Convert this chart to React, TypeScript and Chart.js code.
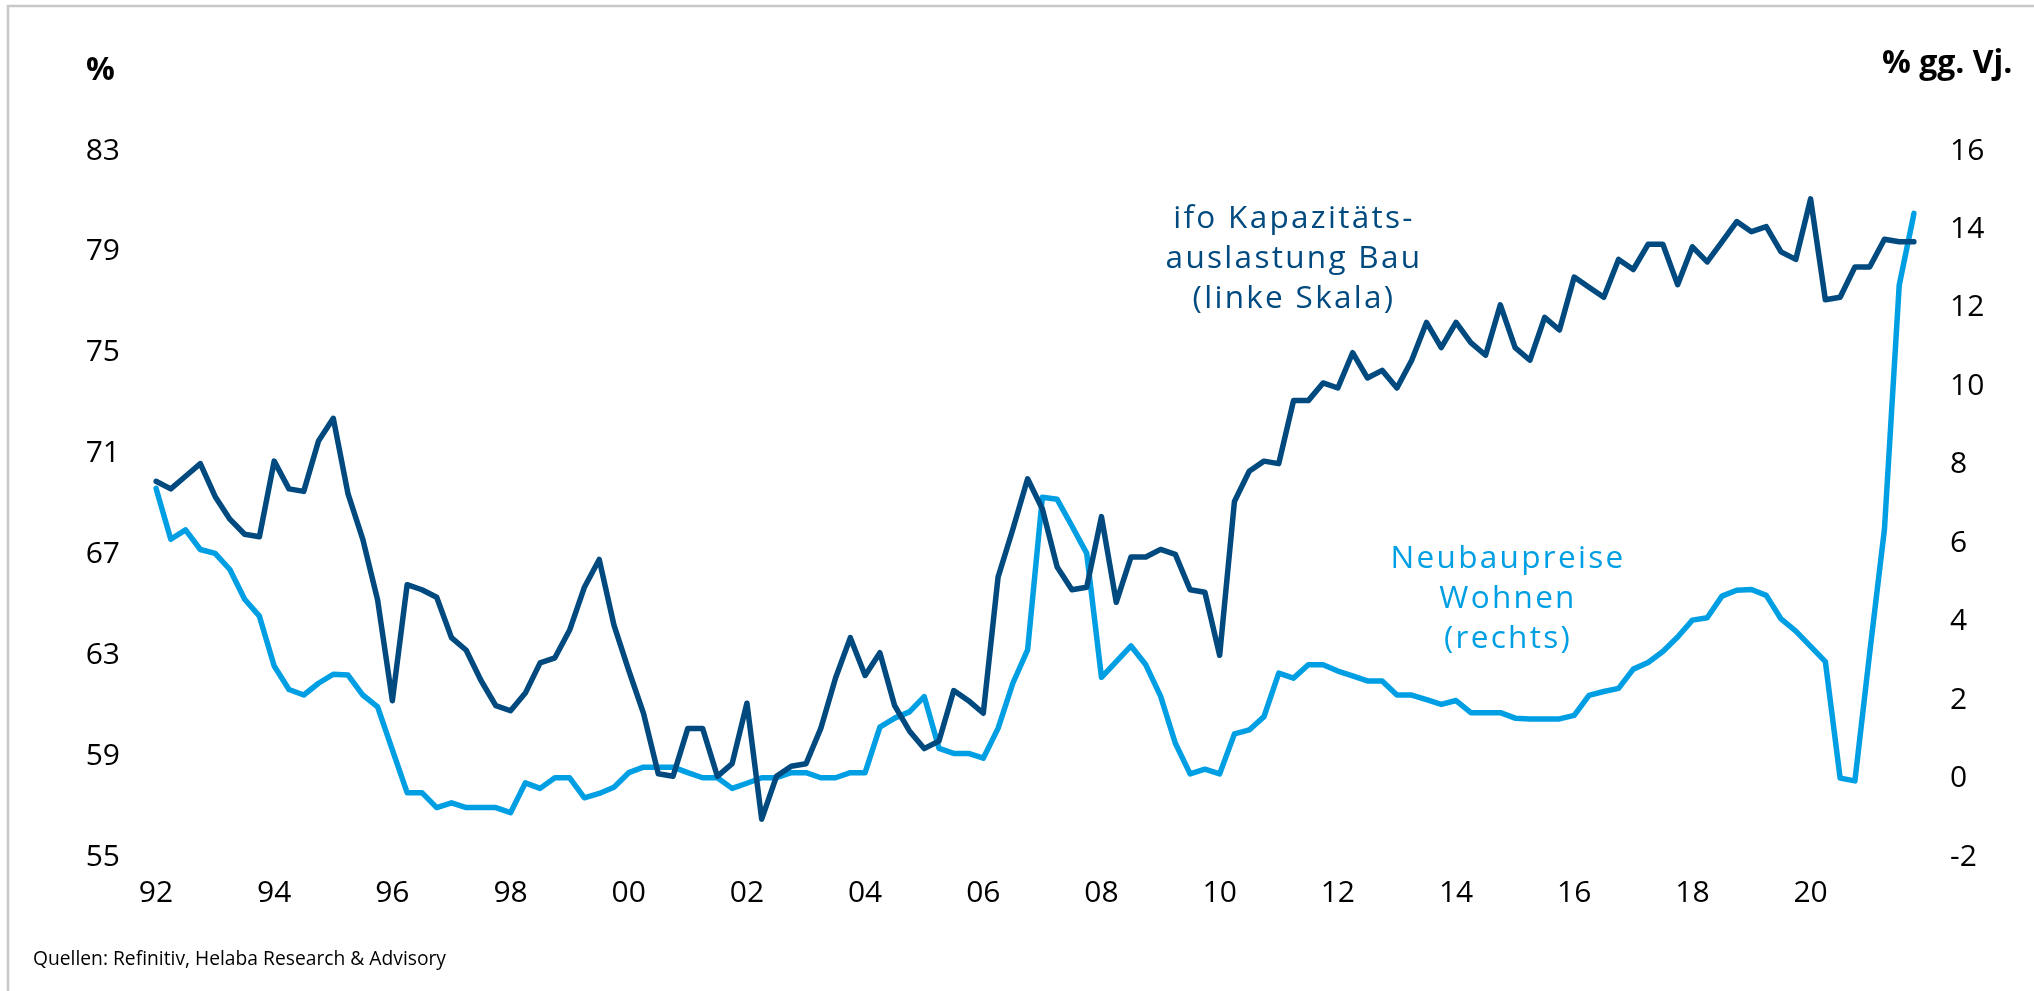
import React, { useEffect, useRef } from "react";
import { Chart, registerables } from "chart.js";

Chart.register(...registerables);

// ---- categories (quarters 1992 Q1 .. 2021 Q4) ----
const years = [
  1992, 1993, 1994, 1995, 1996, 1997, 1998, 1999, 2000, 2001,
  2002, 2003, 2004, 2005, 2006, 2007, 2008, 2009, 2010, 2011,
  2012, 2013, 2014, 2015, 2016, 2017, 2018, 2019, 2020, 2021,
];
const quarterNames = ["Q1", "Q2", "Q3", "Q4"];
const categories = years.flatMap((y) => quarterNames.map((q) => `${y} ${q}`));

// x tick labels, one every two years (every 8 quarters)
const xTickLabels = ["92", "94", "96", "98", "00", "02", "04", "06", "08", "10", "12", "14", "16", "18", "20"];

// ifo Kapazitätsauslastung Bau, % (left axis)
const ifoCapacity = [
  69.9, 69.6, 70.1, 70.6, 69.3, 68.4, 67.8, 67.7, 70.7, 69.6, 69.5, 71.5,
  72.4, 69.4, 67.6, 65.2, 61.2, 65.8, 65.6, 65.3, 63.7, 63.2, 62.0, 61.0,
  60.8, 61.5, 62.7, 62.9, 64.0, 65.7, 66.8, 64.2, 62.4,
  60.7, 58.3, 58.2, 60.1, 60.1, 58.2, 58.7, 61.1, 56.5, 58.2, 58.6, 58.7,
  60.1, 62.1, 63.7, 62.2, 63.1, 61.0, 60.0, 59.3, 59.6, 61.6, 61.2, 60.7,
  66.1, 68.0, 70.0, 68.8, 66.5, 65.6, 65.7, 68.5, 65.1,
  66.9, 66.9, 67.2, 67.0, 65.6, 65.5, 63.0, 69.1, 70.3, 70.7, 70.6, 73.1,
  73.1, 73.8, 73.6, 75.0, 74.0, 74.3, 73.6, 74.7, 76.2, 75.2, 76.2, 75.4,
  74.9, 76.9, 75.2,
  74.7, 76.4, 75.9, 78.0, 77.6, 77.2, 78.7, 78.3, 79.3, 79.3, 77.7, 79.2,
  78.6, 79.4, 80.2, 79.8, 80.0, 79.0, 78.7, 81.1, 77.1, 77.2, 78.4, 78.4,
  79.5, 79.4, 79.4,
];

// Neubaupreise Wohnen, % gg. Vj. (right axis)
const newBuildPrices = [
  7.40, 6.10, 6.34, 5.84, 5.74, 5.33, 4.57, 4.14, 2.87, 2.27, 2.13, 2.43,
  2.66, 2.64, 2.13, 1.83, 0.73, -0.36, -0.36, -0.74, -0.62, -0.74, -0.74, -0.74,
  -0.87, -0.11, -0.25, 0.02, 0.02, -0.49, -0.38, -0.22, 0.15,
  0.29, 0.29, 0.29, 0.15, 0.02, 0.02, -0.25, -0.12, 0.02, 0.02, 0.15, 0.15,
  0.02, 0.02, 0.15, 0.15, 1.31, 1.54, 1.70, 2.09, 0.77, 0.64, 0.64, 0.52,
  1.28, 2.43, 3.28, 7.17, 7.12, 6.44, 5.74, 2.58, 2.98,
  3.38, 2.90, 2.10, 0.90, 0.12, 0.24, 0.12, 1.14, 1.24, 1.58, 2.69, 2.56,
  2.90, 2.90, 2.74, 2.62, 2.49, 2.49, 2.13, 2.13, 2.01, 1.89, 1.99, 1.68,
  1.68, 1.68, 1.54,
  1.52, 1.52, 1.52, 1.61, 2.12, 2.22, 2.30, 2.79, 2.96, 3.24, 3.61, 4.04,
  4.10, 4.65, 4.80, 4.82, 4.67, 4.07, 3.76, 3.37, 2.98, 0.01, -0.06, 3.20,
  6.36, 12.58, 14.41,
];

// axis ranges
const leftAxis = { min: 55, max: 83, step: 4 };
const rightAxis = { min: -2, max: 16, step: 2 };

// texts
const leftTitle = "%";
const rightTitle = "% gg. Vj.";
const ifoLabel = ["ifo Kapazitäts-", "auslastung Bau", "(linke Skala)"];
const priceLabel = ["Neubaupreise", "Wohnen", "(rechts)"];
const sourceText = "Quellen: Refinitiv, Helaba Research & Advisory";

const DARK = "#004a7f";
const LIGHT = "#009fe3";
const FONT = "'Open Sans', 'Noto Sans', sans-serif";

const decorPlugin = {
  id: "decor",
  beforeDraw(chart: any) {
    const ctx = chart.ctx as CanvasRenderingContext2D;
    ctx.save();
    ctx.fillStyle = "#ffffff";
    ctx.fillRect(0, 0, chart.width, chart.height);
    ctx.strokeStyle = "#c8c8c8";
    ctx.lineWidth = 2.5;
    ctx.beginPath();
    ctx.moveTo(8, chart.height);
    ctx.lineTo(8, 6);
    ctx.lineTo(chart.width, 6);
    ctx.stroke();
    ctx.restore();
  },
  afterDraw(chart: any) {
    const ctx = chart.ctx as CanvasRenderingContext2D;
    ctx.save();
    ctx.textBaseline = "alphabetic";
    // axis titles
    ctx.fillStyle = "#000";
    ctx.font = `bold 32px ${FONT}`;
    ctx.textAlign = "left";
    ctx.fillText(leftTitle, 86, 80);
    ctx.fillText(rightTitle, 1882, 73);

    // series annotations
    (ctx as any).letterSpacing = "2.3px";
    ctx.font = `31.5px ${FONT}`;
    ctx.textAlign = "center";
    ctx.fillStyle = DARK;
    ifoLabel.forEach((t, i) => ctx.fillText(t, 1294, 228 + i * 40));
    ctx.fillStyle = LIGHT;
    priceLabel.forEach((t, i) => ctx.fillText(t, 1508, 568 + i * 40));
    (ctx as any).letterSpacing = "0px";

    // source
    ctx.fillStyle = "#000";
    ctx.font = `20px ${FONT}`;
    ctx.textAlign = "left";
    ctx.fillText(sourceText, 33, 965, 413);
    ctx.restore();
  },
};

export default function App() {
  const canvasRef = useRef<HTMLCanvasElement | null>(null);

  useEffect(() => {
    const canvas = canvasRef.current;
    if (!canvas) return;
    const tickFont = { family: FONT, size: 30 };
    const chart = new Chart(canvas, {
      type: "line",
      data: {
        labels: categories,
        datasets: [
          {
            label: "ifo Kapazitätsauslastung Bau",
            data: ifoCapacity,
            yAxisID: "y",
            borderColor: DARK,
            borderWidth: 5.5,
            pointRadius: 0,
            tension: 0,
            fill: false,
            borderJoinStyle: "round",
            borderCapStyle: "round",
          },
          {
            label: "Neubaupreise Wohnen",
            data: newBuildPrices,
            yAxisID: "y1",
            borderColor: LIGHT,
            borderWidth: 5.5,
            pointRadius: 0,
            tension: 0,
            fill: false,
            borderJoinStyle: "round",
            borderCapStyle: "round",
          },
        ],
      },
      options: {
        responsive: false,
        maintainAspectRatio: false,
        devicePixelRatio: 1,
        animation: false,
        layout: { padding: { top: 151, left: 0, right: 0, bottom: 0 } },
        plugins: {
          legend: { display: false },
          tooltip: { enabled: false },
        },
        scales: {
          x: {
            type: "category",
            offset: false,
            grid: { display: false, drawTicks: false },
            border: { display: false },
            ticks: {
              autoSkip: false,
              maxRotation: 0,
              minRotation: 0,
              padding: 18,
              color: "#000",
              font: tickFont,
              callback: (_v: any, idx: number) => (idx % 8 === 0 ? xTickLabels[idx / 8] : ""),
            },
            afterFit: (s: any) => {
              s.height = 134;
            },
          },
          y: {
            position: "left",
            min: leftAxis.min,
            max: leftAxis.max,
            grid: { display: false, drawTicks: false },
            border: { display: false },
            ticks: { stepSize: leftAxis.step, padding: 36, color: "#000", font: tickFont },
            afterFit: (s: any) => {
              s.width = 156;
            },
          },
          y1: {
            position: "right",
            min: rightAxis.min,
            max: rightAxis.max,
            grid: { display: false, drawTicks: false },
            border: { display: false },
            ticks: { stepSize: rightAxis.step, padding: 36, color: "#000", font: tickFont },
            afterFit: (s: any) => {
              s.width = 120;
            },
          },
        },
      },
      plugins: [decorPlugin],
    } as any);
    return () => chart.destroy();
  }, []);

  return (
    <div
      style={{
        position: "fixed",
        left: 0,
        top: 0,
        width: 2034,
        height: 991,
        background: "#fff",
        overflow: "hidden",
      }}
    >
      <canvas ref={canvasRef} width={2034} height={991} style={{ display: "block" }} />
    </div>
  );
}
